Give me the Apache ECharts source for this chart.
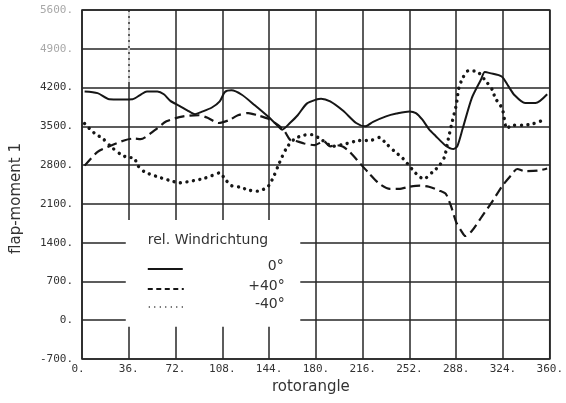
<!DOCTYPE html>
<html>
<head>
<meta charset="utf-8">
<script src="https://cdn.jsdelivr.net/npm/echarts@6/dist/echarts.min.js"></script>
<style>
  html, body { margin: 0; padding: 0; background: #fff; }
  #chart { width: 566px; height: 403px; }
</style>
</head>
<body>
<div id="chart"></div>
<script>
// Flap moment over one rotor revolution for three relative wind directions.

// 0 deg wind direction
const angles0 = [2, 12, 21, 30, 39, 45, 50, 58, 63, 68, 75, 81, 87, 92, 100, 106, 110, 115, 123, 133, 143, 151, 154, 160, 166, 173, 181, 184, 191, 201, 211, 218, 224, 234, 242, 252, 257, 262, 267, 272, 280, 286, 289, 293, 300, 307, 310, 314, 323, 328, 333, 341, 349, 358];
const moment0 = [4130, 4100, 3990, 3985, 3990, 4070, 4130, 4130, 4080, 3960, 3870, 3790, 3720, 3760, 3840, 3950, 4120, 4150, 4070, 3880, 3680, 3500, 3440, 3560, 3700, 3910, 3990, 4000, 3950, 3780, 3560, 3500, 3580, 3680, 3730, 3770, 3740, 3620, 3450, 3330, 3150, 3090, 3150, 3460, 4010, 4340, 4480, 4460, 4400, 4230, 4060, 3920, 3920, 4080];

// +40 deg wind direction
const anglesP40 = [2, 12, 22, 33, 40, 45, 56, 65, 78, 90, 97, 105, 113, 120, 128, 135, 143, 151, 156, 160, 164, 171, 179, 186, 191, 196, 201, 206, 214, 221, 229, 237, 244, 252, 260, 267, 275, 280, 284, 288, 292, 295, 300, 308, 316, 323, 330, 335, 341, 351, 358];
const momentP40 = [2790, 3040, 3150, 3250, 3280, 3270, 3430, 3590, 3680, 3700, 3650, 3560, 3610, 3700, 3740, 3700, 3640, 3520, 3410, 3260, 3240, 3190, 3160, 3230, 3140, 3160, 3130, 3040, 2830, 2650, 2460, 2370, 2370, 2410, 2430, 2410, 2340, 2280, 2060, 1770, 1610, 1520, 1610, 1880, 2150, 2410, 2610, 2730, 2690, 2700, 2740];

// -40 deg wind direction
const anglesM40 = [2, 7, 11, 16, 22, 30, 35, 40, 43, 48, 58, 68, 75, 86, 94, 100, 106, 110, 115, 122, 128, 135, 143, 148, 151, 154, 158, 164, 171, 177, 183, 193, 204, 212, 223, 229, 234, 240, 247, 257, 263, 270, 275, 279, 282, 285, 288, 290, 293, 297, 303, 310, 316, 318, 322, 324, 327, 331, 339, 346, 355];
const momentM40 = [3550, 3430, 3350, 3280, 3140, 2990, 2940, 2930, 2790, 2680, 2590, 2520, 2480, 2520, 2560, 2610, 2660, 2550, 2430, 2400, 2350, 2330, 2410, 2620, 2790, 2950, 3130, 3280, 3340, 3350, 3280, 3140, 3190, 3240, 3250, 3300, 3190, 3060, 2920, 2650, 2550, 2680, 2790, 2950, 3280, 3590, 3880, 4190, 4370, 4500, 4500, 4340, 4150, 4010, 3880, 3770, 3460, 3520, 3520, 3540, 3610];

// Axis scales and captions
const xMin = 0, xMax = 360, xStep = 36;
const yMin = -700, yMax = 5600, yStep = 700;
const legendTitle = 'rel. Windrichtung';
const seriesNames = ['0°', '+40°', '-40°'];

const zip = (xs, ys) => xs.map((x, i) => [x, ys[i]]);

const ink = '#161616';
const gridInk = '#262626';
const monoFont = '"DejaVu Sans Mono", "Liberation Mono", monospace';
const sansFont = '"DejaVu Sans", "Noto Sans", sans-serif';

const chart = echarts.init(document.getElementById('chart'), null, { renderer: 'canvas' });

chart.setOption({
  animation: false,
  backgroundColor: '#fff',
  grid: {
    left: 82, right: 8, top: 10, bottom: 44,
    show: true, borderColor: gridInk, borderWidth: 1.6
  },
  xAxis: {
    type: 'value',
    min: xMin, max: xMax, interval: xStep,
    name: 'rotorangle',
    nameLocation: 'middle',
    nameGap: 21,
    nameTextStyle: { fontFamily: sansFont, fontSize: 15, color: '#333', padding: [0, 10, 0, 0] },
    axisLine: { show: false },
    axisTick: { show: false },
    axisLabel: {
      margin: 5,
      fontFamily: monoFont, fontSize: 11, color: '#333',
      formatter: v => (v === 0 ? '{first|0.}' : v + '.'),
      rich: { first: { fontFamily: monoFont, fontSize: 11, color: '#333', padding: [0, 8, 0, 0] } }
    },
    splitLine: { show: true, lineStyle: { color: gridInk, width: 1.5 } }
  },
  yAxis: {
    type: 'value',
    min: yMin, max: yMax, interval: yStep,
    name: 'flap-moment 1',
    nameLocation: 'middle',
    nameGap: 58,
    nameRotate: 90,
    nameTextStyle: { fontFamily: sansFont, fontSize: 15, color: '#333', padding: [0, 28, 0, 0] },
    axisLine: { show: false },
    axisTick: { show: false },
    axisLabel: {
      margin: 9,
      fontFamily: monoFont, fontSize: 11, color: '#333',
      formatter: v => (v >= 4900 ? '{faint|' + v + '.}' : v + '.'),
      rich: { faint: { fontFamily: monoFont, fontSize: 11, color: '#a8a8a8' } }
    },
    splitLine: { show: true, lineStyle: { color: gridInk, width: 1.5 } }
  },
  series: [
    {
      name: seriesNames[0], type: 'line', data: zip(angles0, moment0),
      symbol: 'none', smooth: 0.25, z: 3,
      lineStyle: { color: ink, width: 2 }
    },
    {
      name: seriesNames[1], type: 'line', data: zip(anglesP40, momentP40),
      symbol: 'none', smooth: 0.25, z: 3,
      lineStyle: { color: ink, width: 2.2, type: [10, 5] }
    },
    {
      name: seriesNames[2], type: 'line', data: zip(anglesM40, momentM40),
      symbol: 'none', smooth: 0.25, z: 3,
      lineStyle: { color: ink, width: 3.4, type: [0.01, 6.5], cap: 'round' }
    }
  ]
});

// Pixel positions derived from the axes for the key panel and the faded grid stroke
const px = (x, y) => chart.convertToPixel({ gridIndex: 0 }, [x, y]);
const topLeft = px(36, 1810);
const botRight = px(168, -120);
const fadeTop = px(36, yMax);
const fadeBot = px(36, 4300);
const kx = topLeft[0] + 19;
const ky = topLeft[1];

chart.setOption({
  graphic: [
    // thinned-out upper part of the 36 deg grid line
    { type: 'line', z: 10,
      shape: { x1: fadeTop[0], y1: fadeTop[1] + 2, x2: fadeBot[0], y2: fadeBot[1] },
      style: { stroke: '#fff', lineWidth: 2.5, lineDash: [4, 2], opacity: 0.75 } },
    // blank panel holding the key
    { type: 'rect', z: 10,
      shape: { x: topLeft[0] - 3, y: ky, width: botRight[0] - topLeft[0] + 3, height: botRight[1] - ky },
      style: { fill: '#fff' } },
    { type: 'text', z: 11, x: kx, y: ky + 13,
      style: { text: legendTitle, font: '14px ' + sansFont, fill: '#333' } },
    { type: 'line', z: 11, shape: { x1: kx, y1: ky + 49, x2: kx + 35, y2: ky + 49 },
      style: { stroke: ink, lineWidth: 2 } },
    { type: 'line', z: 11, shape: { x1: kx, y1: ky + 69, x2: kx + 36, y2: ky + 69 },
      style: { stroke: ink, lineWidth: 2, lineDash: [5, 3.5] } },
    { type: 'line', z: 11, shape: { x1: kx + 1, y1: ky + 87, x2: kx + 35, y2: ky + 87 },
      style: { stroke: ink, lineWidth: 1.6, lineDash: [1, 4.5] } },
    { type: 'text', z: 11, x: kx + 136, y: ky + 39,
      style: { text: seriesNames[0], font: '14px ' + sansFont, fill: '#333', align: 'right' } },
    { type: 'text', z: 11, x: kx + 137, y: ky + 59,
      style: { text: seriesNames[1], font: '14px ' + sansFont, fill: '#333', align: 'right' } },
    { type: 'text', z: 11, x: kx + 137, y: ky + 77,
      style: { text: seriesNames[2], font: '14px ' + sansFont, fill: '#333', align: 'right' } }
  ]
});
</script>
</body>
</html>
